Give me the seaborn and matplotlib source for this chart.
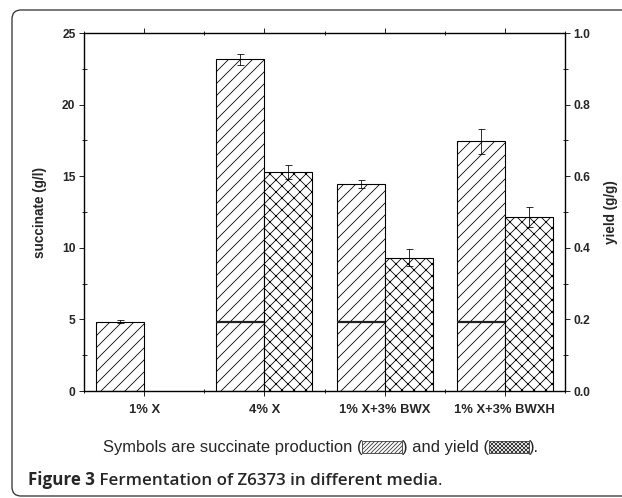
import numpy as np
import pandas as pd
import matplotlib
matplotlib.use("Agg")
import matplotlib.pyplot as plt
import seaborn as sns
from matplotlib.ticker import MultipleLocator, FormatStrFormatter
from matplotlib.patches import FancyBboxPatch, Rectangle
from matplotlib.transforms import IdentityTransform

# data
media = ["1% X", "4% X", "1% X+3% BWX", "1% X+3% BWXH"]
succinate = [4.85, 23.15, 14.45, 17.43]
succinate_sd = [0.12, 0.35, 0.25, 0.9]
yield_gg = [np.nan, 0.611, 0.372, 0.486]
yield_sd = [np.nan, 0.02, 0.024, 0.028]
baseline = [np.nan, 4.8, 4.8, 4.8]   # 1% X level marked inside the other bars
series = ["succinate", "yield"]

sns.set_style("ticks")
plt.rcParams["font.family"] = ["Liberation Sans", "DejaVu Sans"]
plt.rcParams["hatch.linewidth"] = 0.8

W, H = 622, 498
fig = plt.figure(figsize=(W / 72, H / 72), dpi=72)
ax = fig.add_axes([84 / W, 1 - 391 / H, 481 / W, 358 / H])

df_s = pd.DataFrame({"medium": media, "series": "succinate", "value": succinate})
df_y = pd.DataFrame({"medium": media, "series": "yield", "value": yield_gg}).dropna()

sns.barplot(data=df_s, x="medium", y="value", hue="series", hue_order=series,
            order=media, palette=["white", "white"], saturation=1, width=0.8, dodge=True,
            edgecolor="black", linewidth=1.1, errorbar=None, legend=False, ax=ax)
ax2 = ax.twinx()
sns.barplot(data=df_y, x="medium", y="value", hue="series", hue_order=series,
            order=media, palette=["white", "white"], saturation=1, width=0.8, dodge=True,
            edgecolor="black", linewidth=1.1, errorbar=None, legend=False, ax=ax2)

# hatches + error bars + baseline marks
for p in ax.patches:
    h = p.get_height()
    if not np.isfinite(h) or h == 0:
        continue
    p.set_hatch("//")
    i = int(round(p.get_x() + p.get_width()))
    xc = p.get_x() + p.get_width() / 2
    ax.errorbar(xc, h, yerr=succinate_sd[i], color="black", lw=0.8,
                capsize=3.5, capthick=0.8, zorder=5)
    if np.isfinite(baseline[i]):
        ax.hlines(baseline[i], p.get_x(), p.get_x() + p.get_width(),
                  color="#222222", lw=2.2, zorder=6)

for p in ax2.patches:
    h = p.get_height()
    if not np.isfinite(h) or h == 0:
        continue
    p.set_hatch("xx")
    i = int(round(p.get_x()))
    xc = p.get_x() + p.get_width() / 2
    ax2.errorbar(xc, h, yerr=yield_sd[i], color="black", lw=0.8,
                 capsize=3.5, capthick=0.8, zorder=5)

ax.set_xlim(-0.5, 3.5)
ax.set_ylim(0, 25)
ax2.set_ylim(0, 1.0)
ax.yaxis.set_major_locator(MultipleLocator(5))
ax.yaxis.set_minor_locator(MultipleLocator(2.5))
ax2.yaxis.set_major_locator(MultipleLocator(0.2))
ax2.yaxis.set_minor_locator(MultipleLocator(0.1))
ax2.yaxis.set_major_formatter(FormatStrFormatter("%.1f"))
ax.xaxis.set_minor_locator(MultipleLocator(0.5))

for a in (ax, ax2):
    for s in a.spines.values():
        s.set_visible(True)
        s.set_linewidth(1.2)
        s.set_color("black")

ax.tick_params(axis="y", which="major", direction="out", length=5, width=1, labelsize=12)
ax.tick_params(axis="y", which="minor", direction="inout", length=5, width=1)
ax2.tick_params(axis="y", which="major", direction="out", length=5, width=1, labelsize=12)
ax2.tick_params(axis="y", which="minor", direction="inout", length=5, width=1)
ax.tick_params(axis="x", which="major", direction="out", length=5, width=1, labelsize=13,
               top=True, pad=8)
ax.tick_params(axis="x", which="minor", direction="inout", length=4, width=1, top=True)
for lab in ax.get_xticklabels() + ax.get_yticklabels() + ax2.get_yticklabels():
    lab.set_fontweight("bold")

ax.set_xlabel("")
ax2.set_xlabel("")
ax.set_ylabel("succinate (g/l)", fontsize=13.5, fontweight="bold", labelpad=15)
ax2.set_ylabel("yield (g/g)", fontsize=13.5, fontweight="bold", rotation=90, labelpad=14)

# outer rounded box
fig.patches.append(FancyBboxPatch((12, 2), 640, H - 12, boxstyle="round,pad=0,rounding_size=9",
                                  transform=IdentityTransform(), fill=False,
                                  edgecolor="#333333", lw=1.3, figure=fig))

# legend-like sentence with hatched swatches
renderer = fig.canvas.get_renderer()
fs = 16.5
parts = ["Symbols are succinate production (", None, ") and yield (", None, ")."]
hatches = ["//////", "xxxxxx"]
sw_w, sw_h = 40, 12
widths = []
for t in parts:
    if t is None:
        widths.append(sw_w)
    else:
        tt = fig.text(0, 0, t, fontsize=fs)
        widths.append(tt.get_window_extent(renderer).width)
        tt.remove()
x = 321 - sum(widths) / 2
y = H - 452
k = 0
for t, w in zip(parts, widths):
    if t is None:
        fig.patches.append(Rectangle((x, y - 1), w, sw_h, transform=IdentityTransform(),
                                     facecolor="white", edgecolor="#333333", lw=0.8,
                                     hatch=hatches[k], figure=fig))
        k += 1
    else:
        fig.text(x, y, t, fontsize=fs, transform=IdentityTransform(), va="baseline")
    x += w

t1 = fig.text(28, H - 485, "Figure 3", fontsize=17, fontweight="bold",
              family=["Open Sans", "DejaVu Sans"], transform=IdentityTransform())
x1 = 28 + t1.get_window_extent(renderer).width
fig.text(x1, H - 485, " Fermentation of Z6373 in different media", fontsize=17,
         fontweight="semibold", family=["Open Sans", "DejaVu Sans"],
         transform=IdentityTransform())
x2 = x1 + fig.texts[-1].get_window_extent(renderer).width
fig.text(x2, H - 485, ".", fontsize=17, family=["Open Sans", "DejaVu Sans"],
         transform=IdentityTransform())

fig.savefig("out.png", dpi=72)
